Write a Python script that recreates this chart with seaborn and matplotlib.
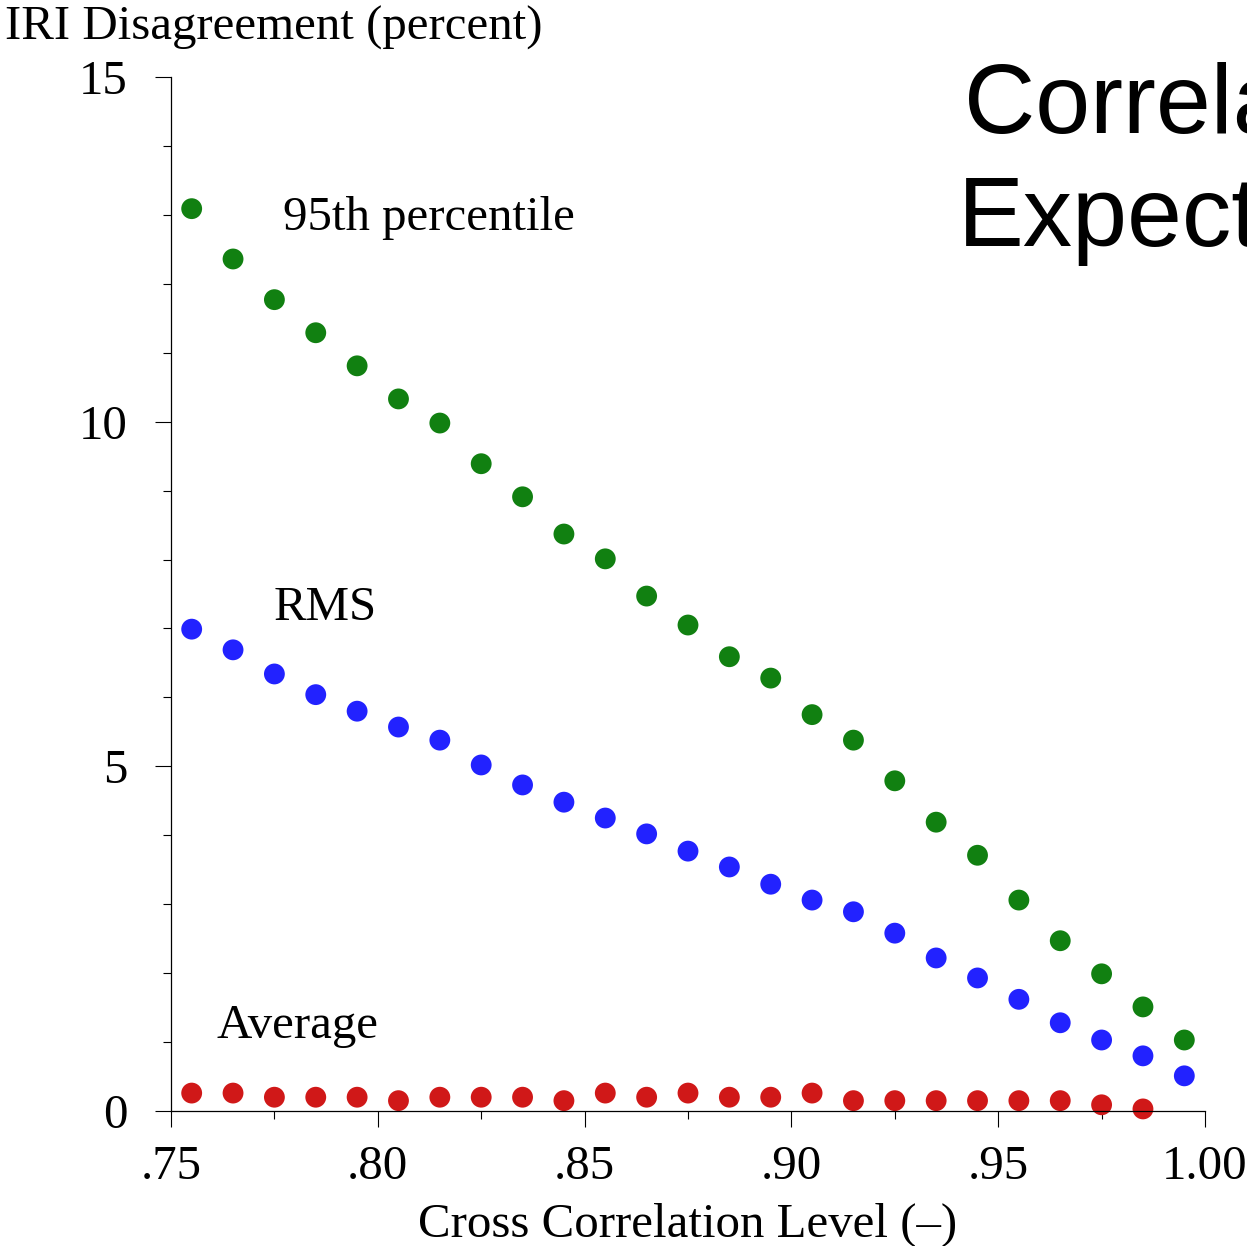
import numpy as np
import pandas as pd
import seaborn as sns
import matplotlib.pyplot as plt
from matplotlib.ticker import MultipleLocator, FuncFormatter

# Cross correlation levels (bin centres)
levels = [0.755, 0.765, 0.775, 0.785, 0.795, 0.805, 0.815, 0.825, 0.835,
          0.845, 0.855, 0.865, 0.875, 0.885, 0.895, 0.905, 0.915, 0.925,
          0.935, 0.945, 0.955, 0.965, 0.975, 0.985, 0.995]

p95 = [13.09, 12.36, 11.77, 11.29, 10.81, 10.33, 9.98, 9.39, 8.91, 8.37,
       8.01, 7.47, 7.05, 6.59, 6.28, 5.75, 5.38, 4.79, 4.19, 3.71,
       3.06, 2.47, 1.99, 1.51, 1.03]

rms = [6.99, 6.69, 6.34, 6.04, 5.80, 5.57, 5.38, 5.02, 4.73, 4.48,
       4.25, 4.02, 3.77, 3.54, 3.29, 3.06, 2.89, 2.58, 2.22, 1.93,
       1.62, 1.28, 1.03, 0.80, 0.51]

# no average point shown at the last level
average = [0.26, 0.26, 0.20, 0.20, 0.20, 0.15, 0.20, 0.20, 0.20, 0.15,
           0.26, 0.20, 0.26, 0.20, 0.20, 0.26, 0.15, 0.15, 0.15, 0.15,
           0.15, 0.15, 0.09, 0.03]

df = pd.concat([
    pd.DataFrame({"level": levels, "value": p95, "stat": "95th"}),
    pd.DataFrame({"level": levels, "value": rms, "stat": "RMS"}),
    pd.DataFrame({"level": levels[:len(average)], "value": average, "stat": "Average"}),
])
palette = {"95th": "#118011", "RMS": "#2222FF", "Average": "#D01818"}

sns.set_style("ticks")
plt.rcParams['font.family'] = ['Liberation Serif', 'DejaVu Serif']
plt.rcParams.update({
    "text.color": "black",
    "axes.edgecolor": "black",
    "xtick.color": "black",
    "ytick.color": "black",
    "axes.labelcolor": "black",
})

W, H = 1247, 1246
FS = 35.2
fig = plt.figure(figsize=(W / 100, H / 100), dpi=100)
ax = fig.add_axes([171 / W, 1 - 1111 / H, (1205 - 171) / W, (1111 - 77) / H])

sns.scatterplot(data=df, x="level", y="value", hue="stat", palette=palette,
                s=225, linewidth=0, legend=False, ax=ax, clip_on=False)

ax.set_xlim(0.75, 1.00)
ax.set_ylim(0, 15)
ax.xaxis.set_major_locator(MultipleLocator(0.05))
ax.xaxis.set_minor_locator(MultipleLocator(0.025))
ax.yaxis.set_major_locator(MultipleLocator(5))
ax.yaxis.set_minor_locator(MultipleLocator(1))
ax.xaxis.set_major_formatter(FuncFormatter(
    lambda v, p: f"{v:.2f}" if v >= 0.999 else f"{v:.2f}".lstrip("0")))
ax.yaxis.set_major_formatter(FuncFormatter(lambda v, p: f"{v:.0f}"))

ax.tick_params(which="major", length=11.5, width=0.8, labelsize=FS, pad=13)
ax.tick_params(axis="y", which="major", pad=20)
ax.tick_params(which="minor", length=5.8, width=0.8)
for s in ["top", "right"]:
    ax.spines[s].set_visible(False)
for s in ["left", "bottom"]:
    ax.spines[s].set_linewidth(0.9)
ax.set_xlabel("")
ax.set_ylabel("")

# series labels
ax.text(0.7771, 12.78, "95th percentile", fontsize=FS, va="baseline")
ax.text(0.7749, 7.12, "RMS", fontsize=FS, va="baseline")
ax.text(0.7611, 1.06, "Average", fontsize=FS, va="baseline")

fig.text(5 / W, 1 - 40 / H, "IRI Disagreement (percent)", fontsize=FS,
         va="baseline", ha="left")
fig.text(688 / W, 1 - 1237 / H, "Cross Correlation Level (\u2013)", fontsize=FS,
         va="baseline", ha="center")

# title, runs past the right edge of the figure
fig.text(964 / W, 1 - 133 / H, "Correlation", fontsize=71,
         family="Liberation Sans", va="baseline", ha="left")
fig.text(958 / W, 1 - 246 / H, "Expected", fontsize=71,
         family="Liberation Sans", va="baseline", ha="left")

fig.savefig("out.png", dpi=100)
